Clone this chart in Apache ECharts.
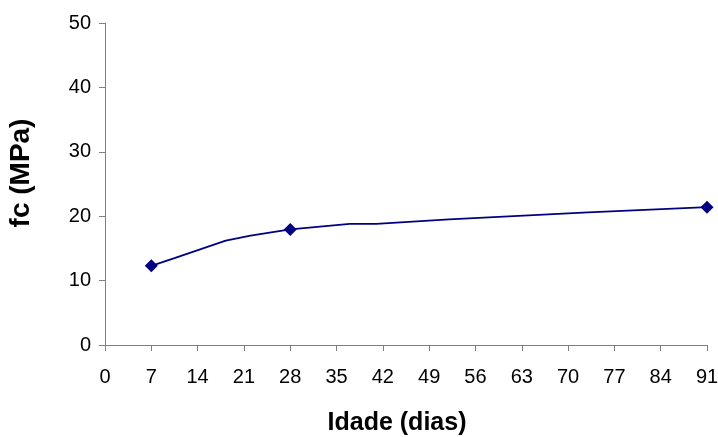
<!DOCTYPE html>
<html>
<head>
<meta charset="utf-8">
<script src="https://cdn.jsdelivr.net/npm/echarts@6/dist/echarts.min.js"></script>
<style>
  html, body { margin: 0; padding: 0; background: #fff; }
  #chart { width: 718px; height: 437px; }
</style>
</head>
<body>
<div id="chart"></div>
<script>
// Concrete compressive strength development with age
const ages = [7, 10.5, 18.25, 22, 28, 37, 41, 52, 73, 91];               // dias
const strength = [12.3, 13.5, 16.2, 17.0, 17.95, 18.8, 18.8, 19.5, 20.6, 21.4]; // MPa
const markedAges = [7, 28, 91];
const xTicks = [0, 7, 14, 21, 28, 35, 42, 49, 56, 63, 70, 77, 84, 91];
const yTicks = [0, 10, 20, 30, 40, 50];

const navy = '#000080';
const axisGray = '#808080';
const font = '"Liberation Sans", Arial, sans-serif';

const lineData = ages.map((a, i) => [a, strength[i]]);
const markerData = lineData.filter(p => markedAges.includes(p[0]));

const chart = echarts.init(document.getElementById('chart'), null, { renderer: 'canvas' });
chart.setOption({
  animation: false,
  backgroundColor: '#fff',
  grid: { left: 105, right: 11, top: 23, bottom: 92, containLabel: false, outerBoundsMode: 'none' },
  xAxis: {
    type: 'value',
    min: xTicks[0],
    max: xTicks[xTicks.length - 1],
    interval: 7,
    name: 'Idade (dias)',
    nameLocation: 'middle',
    nameGap: 66,
    nameTextStyle: { fontFamily: font, fontWeight: 'bold', fontSize: 25, color: '#000', padding: [0, 18, 0, 0] },
    axisLine: { lineStyle: { color: axisGray, width: 1 } },
    axisTick: { show: true, length: 6, inside: false, lineStyle: { color: axisGray } },
    axisLabel: { fontFamily: font, fontSize: 20, color: '#000', margin: 22 },
    splitLine: { show: false }
  },
  yAxis: {
    type: 'value',
    min: yTicks[0],
    max: yTicks[yTicks.length - 1],
    interval: 10,
    name: 'fc (MPa)',
    nameLocation: 'middle',
    nameGap: 70,
    nameRotate: 90,
    nameTextStyle: { fontFamily: font, fontWeight: 'bold', fontSize: 28, color: '#000', padding: [0, 0, 0, 22] },
    axisLine: { show: true, lineStyle: { color: axisGray, width: 1 } },
    axisTick: { show: true, length: 6, inside: false, lineStyle: { color: axisGray } },
    axisLabel: { fontFamily: font, fontSize: 20, color: '#000', margin: 14 },
    splitLine: { show: false }
  },
  series: [
    {
      type: 'line',
      data: lineData,
      showSymbol: false,
      symbol: 'none',
      lineStyle: { color: navy, width: 1.8 },
      z: 2
    },
    {
      type: 'scatter',
      data: markerData,
      symbol: 'diamond',
      symbolSize: 13,
      itemStyle: { color: navy, opacity: 1 },
      z: 3
    }
  ]
});
</script>
</body>
</html>
